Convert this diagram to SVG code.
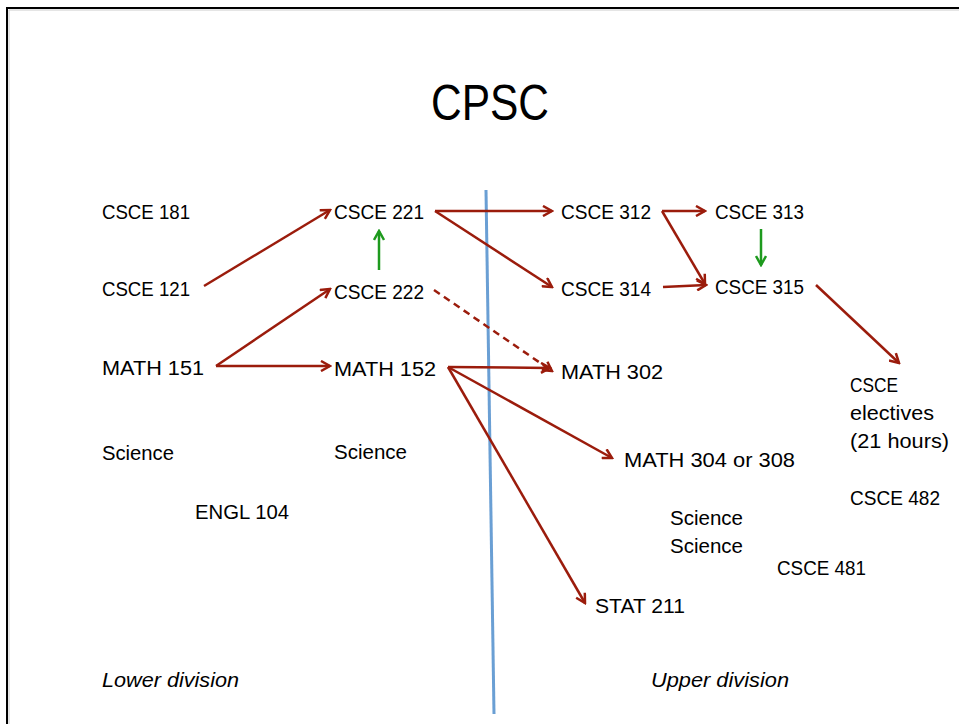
<svg xmlns="http://www.w3.org/2000/svg" width="959" height="724" viewBox="0 0 959 724">
<style>
.t{font-family:"Liberation Sans",Arial,sans-serif;font-size:20px;fill:#000}
.i{font-style:italic}
.r{stroke:#9b1c0c;stroke-width:2.5;fill:none}
.g{stroke:#1e9a1e;stroke-width:2.5;fill:none}
</style>
<defs>
<marker id="ar" markerWidth="12" markerHeight="12" refX="10" refY="6" orient="auto" markerUnits="userSpaceOnUse">
<path d="M1,1 L10,6 L1,11" fill="none" stroke="#9b1c0c" stroke-width="2.5"/>
</marker>
<marker id="ag" markerWidth="12" markerHeight="12" refX="10" refY="6" orient="auto" markerUnits="userSpaceOnUse">
<path d="M1,1 L10,6 L1,11" fill="none" stroke="#1e9a1e" stroke-width="2.5"/>
</marker>
</defs>
<rect width="959" height="724" fill="#fff"/>
<path d="M7,724 V8 H959" fill="none" stroke="#000" stroke-width="2"/>
<path d="M9,724 V10 H959" fill="none" stroke="#ccc" stroke-width="1"/>
<text x="490" y="120" text-anchor="middle" font-family="Liberation Sans,Arial,sans-serif" font-size="50" textLength="118" lengthAdjust="spacingAndGlyphs">CPSC</text>
<line x1="486" y1="190" x2="494" y2="714" stroke="#6a9fd4" stroke-width="3"/>
<g id="connectors">
<line class="r" x1="204" y1="286" x2="330" y2="210" marker-end="url(#ar)"/>
<line class="r" x1="216" y1="366" x2="330" y2="289" marker-end="url(#ar)"/>
<line class="r" x1="216" y1="366" x2="330" y2="366" marker-end="url(#ar)"/>
<line class="r" x1="435" y1="211" x2="552" y2="211" marker-end="url(#ar)"/>
<line class="r" x1="435" y1="211" x2="552" y2="287" marker-end="url(#ar)"/>
<line class="r" x1="434" y1="290" x2="552" y2="371" stroke-dasharray="7,5" marker-end="url(#ar)"/>
<line class="r" x1="448" y1="367" x2="550" y2="368" marker-end="url(#ar)"/>
<line class="r" x1="448" y1="367" x2="612" y2="458" marker-end="url(#ar)"/>
<line class="r" x1="448" y1="367" x2="585" y2="603" marker-end="url(#ar)"/>
<line class="r" x1="662" y1="211" x2="705" y2="211" marker-end="url(#ar)"/>
<line class="r" x1="662" y1="211" x2="705" y2="284" marker-end="url(#ar)"/>
<line class="r" x1="663" y1="287" x2="706" y2="285" marker-end="url(#ar)"/>
<line class="r" x1="816" y1="285" x2="899" y2="363" marker-end="url(#ar)"/>
<line class="g" x1="379" y1="270" x2="379" y2="231" marker-end="url(#ag)"/>
<line class="g" x1="761" y1="229" x2="761" y2="265" marker-end="url(#ag)"/>
</g>
<g id="csce181"><text class="t" x="102" y="219" textLength="88" lengthAdjust="spacingAndGlyphs">CSCE 181</text></g>
<g id="csce121"><text class="t" x="102" y="296" textLength="88" lengthAdjust="spacingAndGlyphs">CSCE 121</text></g>
<g id="math151"><text class="t" x="102" y="375" textLength="102" lengthAdjust="spacingAndGlyphs">MATH 151</text></g>
<g id="science1"><text class="t" x="102" y="460" textLength="72" lengthAdjust="spacingAndGlyphs">Science</text></g>
<g id="engl104"><text class="t" x="195" y="519" textLength="94" lengthAdjust="spacingAndGlyphs">ENGL 104</text></g>
<g id="csce221"><text class="t" x="334" y="219" textLength="90" lengthAdjust="spacingAndGlyphs">CSCE 221</text></g>
<g id="csce222"><text class="t" x="334" y="299" textLength="90" lengthAdjust="spacingAndGlyphs">CSCE 222</text></g>
<g id="math152"><text class="t" x="334" y="376" textLength="102" lengthAdjust="spacingAndGlyphs">MATH 152</text></g>
<g id="science2"><text class="t" x="334" y="459" textLength="73" lengthAdjust="spacingAndGlyphs">Science</text></g>
<g id="csce312"><text class="t" x="561" y="219" textLength="90" lengthAdjust="spacingAndGlyphs">CSCE 312</text></g>
<g id="csce314"><text class="t" x="561" y="296" textLength="90" lengthAdjust="spacingAndGlyphs">CSCE 314</text></g>
<g id="math302"><text class="t" x="561" y="379" textLength="102" lengthAdjust="spacingAndGlyphs">MATH 302</text></g>
<g id="math304"><text class="t" x="624" y="467" textLength="171" lengthAdjust="spacingAndGlyphs">MATH 304 or 308</text></g>
<g id="science3"><text class="t" x="670" y="525" textLength="73" lengthAdjust="spacingAndGlyphs">Science</text><text class="t" x="670" y="553" textLength="73" lengthAdjust="spacingAndGlyphs">Science</text></g>
<g id="stat211"><text class="t" x="595" y="613" textLength="90" lengthAdjust="spacingAndGlyphs">STAT 211</text></g>
<g id="csce313"><text class="t" x="715" y="219" textLength="89" lengthAdjust="spacingAndGlyphs">CSCE 313</text></g>
<g id="csce315"><text class="t" x="715" y="294" textLength="89" lengthAdjust="spacingAndGlyphs">CSCE 315</text></g>
<g id="electives"><text class="t" x="850" y="392" textLength="48" lengthAdjust="spacingAndGlyphs">CSCE</text><text class="t" x="850" y="420" textLength="84" lengthAdjust="spacingAndGlyphs">electives</text><text class="t" x="850" y="448" textLength="99" lengthAdjust="spacingAndGlyphs">(21 hours)</text></g>
<g id="csce482"><text class="t" x="850" y="505" textLength="90" lengthAdjust="spacingAndGlyphs">CSCE 482</text></g>
<g id="csce481"><text class="t" x="777" y="575" textLength="89" lengthAdjust="spacingAndGlyphs">CSCE 481</text></g>
<g id="lower"><text class="t i" x="102" y="687" textLength="137" lengthAdjust="spacingAndGlyphs">Lower division</text></g>
<g id="upper"><text class="t i" x="651" y="687" textLength="138" lengthAdjust="spacingAndGlyphs">Upper division</text></g>
</svg>
